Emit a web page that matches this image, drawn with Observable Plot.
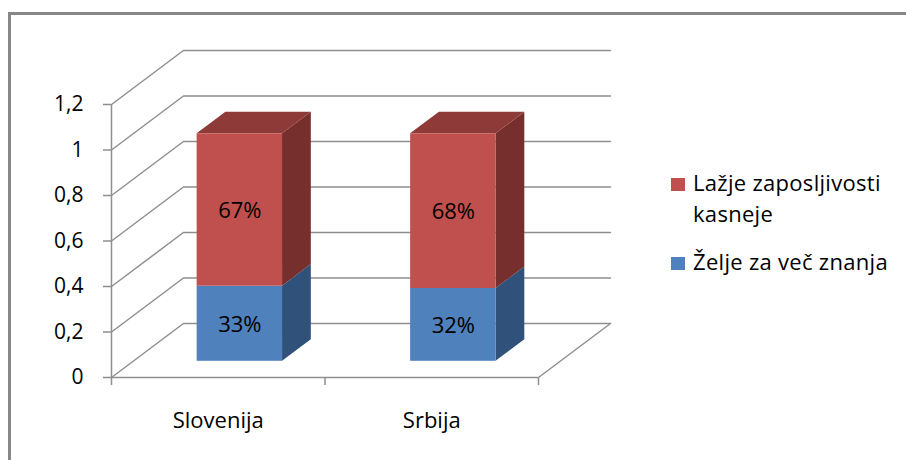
<!DOCTYPE html>
<html><head><meta charset="utf-8">
<script src="https://cdn.jsdelivr.net/npm/d3@7"></script>
<script src="https://cdn.jsdelivr.net/npm/@observablehq/plot@0.6"></script>
<style>
body{margin:0;background:#fff;}
#wrap{position:relative;width:906px;height:460px;overflow:hidden;font-family:"Open Sans",sans-serif;background:#fff;}
#border{position:absolute;left:8px;top:12px;width:1000px;height:1000px;border-left:3px solid #878787;border-top:3px solid #878787;}
#chart{position:absolute;left:0;top:0;}
.lg{position:absolute;left:693px;font-size:22px;line-height:31px;color:#000;white-space:nowrap;letter-spacing:0.3px;}
.sw{position:absolute;left:671px;width:14px;height:13px;}
</style></head><body>
<div id="wrap"><div id="border"></div><div id="chart"></div><div id="legend"></div></div>
<script>
const categories = ["Slovenija", "Srbija"];
const seriesNames = ["Želje za več znanja", "Lažje zaposljivosti kasneje"];
const zeljeZaVecZnanja = [0.33, 0.32];
const lazjeZaposljivosti = [0.67, 0.68];
const yTicks = [0, 0.2, 0.4, 0.6, 0.8, 1, 1.2];
const yTickLabels = ["0", "0,2", "0,4", "0,6", "0,8", "1", "1,2"];
const frontColors = ["#4F81BD", "#C0504D"];
const sideColors = ["#30527A", "#772F2D"];
const topColors = ["#3C679A", "#8E3A38"];
const gridColor = "#8f8f8f";

// 3D projection constants (data units)
const BX = 0.337, BY = 0.2374;   // offset of the back wall
const D0 = 0.3, D1 = 0.7;        // bar depth range
const W0 = 0.3, W1 = 0.7;        // bar span inside its category

const series = [zeljeZaVecZnanja, lazjeZaposljivosti];
const segs = [];
categories.forEach((c, i) => {
  let base = 0;
  series.forEach((vals, s) => {
    segs.push({i, s, y0: base, y1: base + vals[i], v: vals[i], top: s === series.length - 1});
    base += vals[i];
  });
});
const front = segs.map(d => ({...d, x1: d.i + W0 + D0 * BX, x2: d.i + W1 + D0 * BX, fy1: d.y0 + D0 * BY, fy2: d.y1 + D0 * BY}));
const side = segs.flatMap((d, k) => [D0, D1].map(dep => ({k, s: d.s, x: d.i + W1 + dep * BX, y1: d.y0 + dep * BY, y2: d.y1 + dep * BY})));
const topF = segs.filter(d => d.top).flatMap((d, k) => [D0, D1].map(dep => ({k, s: d.s, y: d.y1 + dep * BY, x1: d.i + W0 + dep * BX, x2: d.i + W1 + dep * BX})));
const n = categories.length;
const grid = yTicks.flatMap(v => [{v, x: 0, y: v}, {v, x: BX, y: v + BY}, {v, x: n + BX, y: v + BY}]);
const floor = [{x: 0, y: 0}, {x: n, y: 0}, {x: n + BX, y: BY}];

const chart = Plot.plot({
  width: 906, height: 460,
  marginLeft: 111, marginRight: 368, marginTop: 104, marginBottom: 83,
  x: {domain: [0, n], axis: null},
  y: {domain: [0, 1.2], axis: null},
  color: {type: "identity"},
  style: {fontFamily: "'Open Sans', sans-serif", fontSize: "20px", background: "transparent", overflow: "visible", color: "#000"},
  marks: [
    Plot.line(grid, {x: "x", y: "y", z: "v", stroke: gridColor, strokeWidth: 1.5}),
    Plot.line(floor, {x: "x", y: "y", stroke: gridColor, strokeWidth: 1.5}),
    Plot.ruleX([0], {y1: 0, y2: 1.2, stroke: gridColor, strokeWidth: 1.5}),
    Plot.axisY({ticks: yTicks, tickFormat: d => yTickLabels[yTicks.indexOf(d)], tickSize: 8, tickPadding: 20, stroke: gridColor, strokeWidth: 1.5, fill: "#000", fontSize: 21, label: null}),
    Plot.axisX({ticks: d3.range(n + 1), tickFormat: () => "", tickSize: 8, stroke: gridColor, strokeWidth: 1.5, label: null}),
    Plot.areaY(side, {x: "x", y1: "y1", y2: "y2", z: "k", fill: d => sideColors[d.s]}),
    Plot.areaX(topF, {y: "y", x1: "x1", x2: "x2", z: "k", fill: d => topColors[d.s]}),
    Plot.rect(front, {x1: "x1", x2: "x2", y1: "fy1", y2: "fy2", fill: d => frontColors[d.s]}),
    Plot.text(front, {x: d => (d.x1 + d.x2) / 2, y: d => (d.fy1 + d.fy2) / 2, text: d => Math.round(d.v * 100) + "%", fill: "#000", fontSize: 22, dy: 1}),
    Plot.text(categories, {x: (d, i) => i + 0.5, y: 0, text: d => d, dy: 43, fill: "#000", fontSize: 22})
  ]
});
document.getElementById("chart").appendChild(chart);

// legend (top series first)
const legend = document.getElementById("legend");
const entries = [
  {name: seriesNames[1], color: frontColors[1], lines: ["Lažje zaposljivosti", "kasneje"], top: 167, sw: 178},
  {name: seriesNames[0], color: frontColors[0], lines: ["Želje za več znanja"], top: 246, sw: 257}
];
entries.forEach(e => {
  const sw = document.createElement("div");
  sw.className = "sw"; sw.style.top = e.sw + "px"; sw.style.background = e.color;
  legend.appendChild(sw);
  const t = document.createElement("div");
  t.className = "lg"; t.style.top = e.top + "px"; t.innerHTML = e.lines.join("<br>");
  legend.appendChild(t);
});
</script>
</body></html>
